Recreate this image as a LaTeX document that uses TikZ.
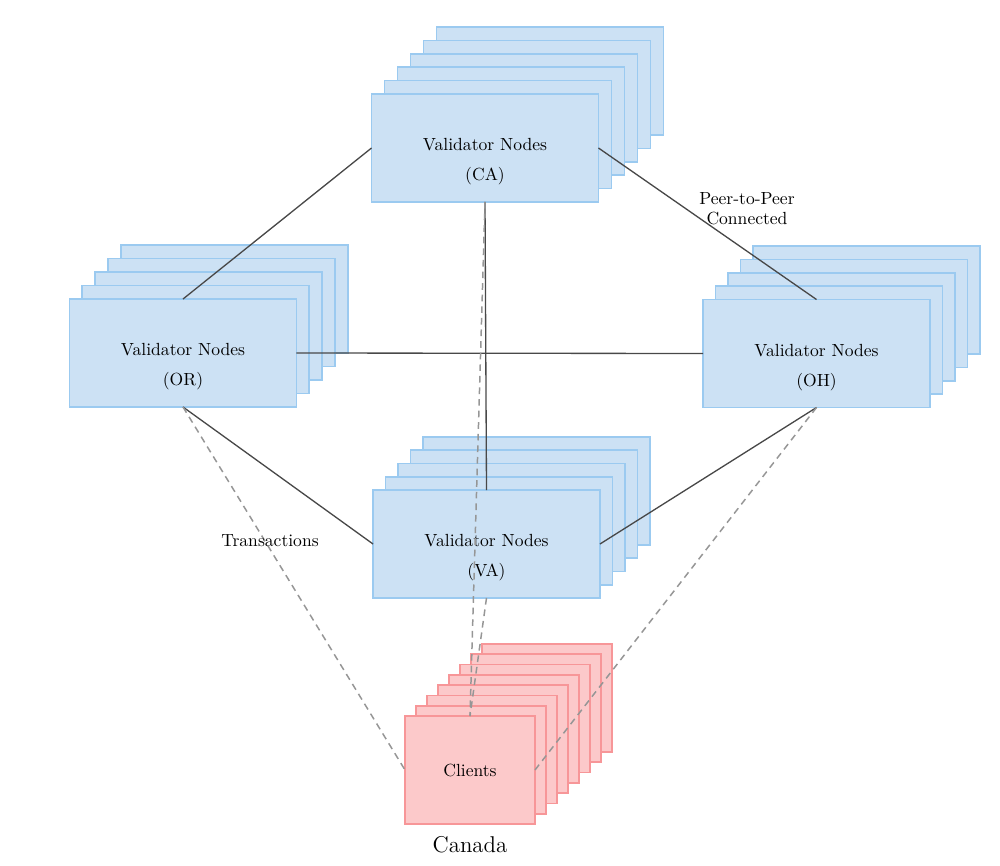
\documentclass[tikz,border=0pt]{standalone}
\usepackage{tikz}
\usetikzlibrary{backgrounds}

\definecolor{valfill}{RGB}{204,225,244}
\definecolor{valdraw}{RGB}{155,202,240}
\definecolor{clifill}{RGB}{252,201,202}
\definecolor{clidraw}{RGB}{247,150,152}
\definecolor{linkgray}{RGB}{72,72,72}
\definecolor{txgray}{RGB}{150,150,150}

\tikzset{
	valback/.style={draw=valdraw, fill=valfill, line width=1pt},
	cliback/.style={draw=clidraw, fill=clifill, line width=1pt},
	valbox/.style={valback, minimum width=4.54cm, minimum height=2.16cm, inner sep=0pt, outer sep=0pt},
	clibox/.style={cliback, minimum width=2.6cm, minimum height=2.16cm, inner sep=0pt, outer sep=0pt},
	valtext/.style={align=center, font=\fontsize{10}{17}\selectfont},
	link/.style={draw=linkgray, line width=0.75pt},
	txn/.style={draw=txgray, line width=0.85pt, dash pattern=on 3.8pt off 2.8pt}
}

\begin{document}
\begin{tikzpicture}[x=0.02cm, y=-0.02cm]
		\useasboundingbox (0,0) rectangle (1000,865);

		\node[valbox] (ca) at (485,148) {};
		\node[valbox] (or) at (183,353) {};
		\node[valbox] (oh) at (816.5,353.5) {};
		\node[valbox] (va) at (486.5,544) {};
		\node[clibox] (cl) at (470,770) {};

		\begin{pgfonlayer}{background}
			\foreach \n/\k/\dx/\dy/\s in {ca/5/13/13.4/valback, or/4/12.8/13.5/valback, oh/4/12.5/13.3/valback, va/4/12.5/13.3/valback, cl/7/11/10.3/cliback}
				\foreach \i in {\k,...,1}
					\draw[\s] ([shift={(\i*\dx,-\i*\dy)}]\n.south west) rectangle ([shift={(\i*\dx,-\i*\dy)}]\n.north east);
		\end{pgfonlayer}

		\node[valtext] (ca-t) at ([yshift=-0.28cm]ca.center) {Validator Nodes\\(CA)};
		\node[valtext] (or-t) at ([yshift=-0.28cm]or.center) {Validator Nodes\\(OR)};
		\node[valtext] (oh-t) at ([yshift=-0.28cm]oh.center) {Validator Nodes\\(OH)};
		\node[valtext] (va-t) at ([yshift=-0.28cm]va.center) {Validator Nodes\\(VA)};
		\node (cl-t) at (cl.center) {Clients};

		\draw[link] (ca.west) -- (or.north);
		\draw[link] (ca.east) -- (oh.north);
		\draw[link] (or.east) -- (oh.west);
		\draw[link] (ca.south) -- (va.north);
		\draw[link] (or.south) -- (va.west);
		\draw[link] (oh.south) -- (va.east);

		\draw[txn] (or.south) -- (cl.west);
		\draw[txn] (oh.south) -- (cl.east);
		\draw[txn] (ca.south) -- (cl.north);
		\draw[txn] (va.south) -- (cl.north);

		\node (tx) at (270,541) {Transactions};
		\node[align=center, font=\fontsize{10}{11.5}\selectfont] (p2p) at (747,209) {Peer-to-Peer\\Connected};
		\node[font=\fontsize{13}{15}\selectfont] (canada) at (470,845) {Canada};
	\end{tikzpicture}
\end{document}
